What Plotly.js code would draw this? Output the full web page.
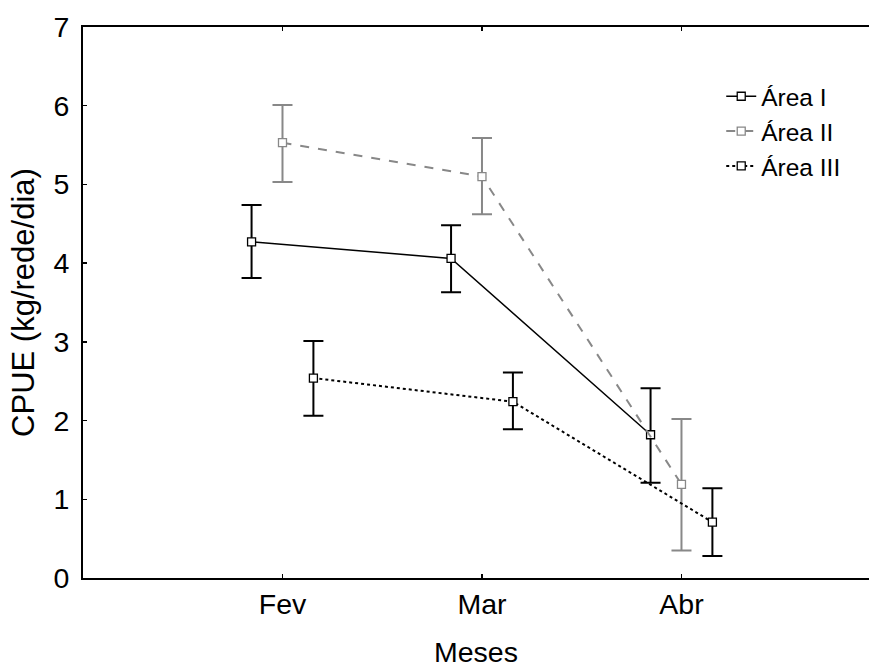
<!DOCTYPE html>
<html>
<head>
<meta charset="utf-8">
<script src="https://cdn.plot.ly/plotly-3.0.1.min.js"></script>
<style>html,body{margin:0;padding:0;background:#fff;}#chart{width:869px;height:668px;}</style>
</head>
<body>
<div id="chart"></div>
<script>
// Data
var months = ["Fev", "Mar", "Abr"];
var monthPos = [1, 2, 3];
var seriesNames = ["Área I", "Área II", "Área III"];

var areaI_mean  = [4.27, 4.06, 1.82];
var areaI_upper = [4.74, 4.48, 2.41];
var areaI_lower = [3.81, 3.63, 1.21];

var areaII_mean  = [5.53, 5.10, 1.19];
var areaII_upper = [6.01, 5.59, 2.02];
var areaII_lower = [5.03, 4.62, 0.35];

var areaIII_mean  = [2.54, 2.24, 0.71];
var areaIII_upper = [3.01, 2.61, 1.14];
var areaIII_lower = [2.06, 1.89, 0.28];

var dodge = [-0.155, 0, 0.155];

function mk(name, mean, upper, lower, k, color, dash, lw, ebw) {
  return {
    type: "scatter",
    mode: "lines+markers",
    name: name,
    x: monthPos.map(function (p) { return p + dodge[k]; }),
    y: mean,
    line: { color: color, dash: dash, width: lw },
    marker: { symbol: "square", size: 8, color: "#ffffff", line: { color: color, width: 1.3 } },
    error_y: {
      type: "data", symmetric: false,
      array: upper.map(function (u, i) { return u - mean[i]; }),
      arrayminus: lower.map(function (l, i) { return mean[i] - l; }),
      color: color, thickness: ebw, width: 10
    }
  };
}

var data = [
  mk(seriesNames[0], areaI_mean, areaI_upper, areaI_lower, 0, "#000000", "solid", 1.5, 2),
  mk(seriesNames[1], areaII_mean, areaII_upper, areaII_lower, 1, "#888888", "dash", 2, 2),
  mk(seriesNames[2], areaIII_mean, areaIII_upper, areaIII_lower, 2, "#000000", "dot", 2, 2)
];

var layout = {
  width: 869, height: 668,
  margin: { l: 83, r: 0, t: 27, b: 90 },
  paper_bgcolor: "#ffffff", plot_bgcolor: "#ffffff",
  font: { family: "Liberation Sans, Arial, sans-serif", color: "#000000", size: 28 },
  showlegend: true,
  legend: {
    x: 0.812, y: 0.915, xanchor: "left", yanchor: "top",
    bgcolor: "rgba(0,0,0,0)", font: { size: 24.5 },
    tracegroupgap: 0, itemwidth: 30
  },
  xaxis: {
    range: [0, 3.94],
    tickmode: "array", tickvals: monthPos, ticktext: months,
    showgrid: false, zeroline: false,
    showline: true, linecolor: "#000000", linewidth: 2, mirror: "ticks",
    ticks: "inside", ticklen: 4, tickcolor: "#000000", tickwidth: 1.5,
    tickfont: { size: 28.5 },
    title: { text: "Meses", font: { size: 28.5 }, standoff: 26 }
  },
  yaxis: {
    range: [0, 7],
    tickmode: "array", tickvals: [0, 1, 2, 3, 4, 5, 6, 7],
    showgrid: false, zeroline: false,
    showline: true, linecolor: "#000000", linewidth: 2, mirror: false,
    ticks: "inside", ticklen: 4, tickcolor: "#000000", tickwidth: 1.5,
    tickfont: { size: 28.5 }, ticklabelstandoff: 6,
    title: { text: "CPUE (kg/rede/dia)", font: { size: 31 }, standoff: 10 }
  }
};

Plotly.newPlot("chart", data, layout, { staticPlot: true, displayModeBar: false });
</script>
</body>
</html>
